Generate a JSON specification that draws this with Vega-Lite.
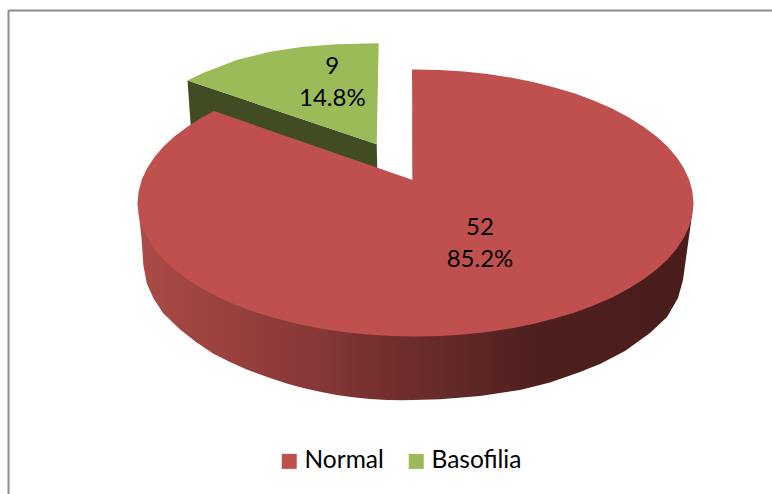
{
  "$schema": "https://vega.github.io/schema/vega-lite/v6.json",
  "autosize": "none",
  "width": 764,
  "height": 484,
  "padding": {"left": 8, "top": 10, "right": 0, "bottom": 0},
  "background": "white",
  "view": {"stroke": null},
  "config": {
    "axis": {"domainColor": "#8c8c8c", "domainWidth": 2, "ticks": false, "labels": false, "grid": false, "title": null}
  },
  "encoding": {
    "x": {"field": "X", "type": "quantitative", "scale": {"domain": [-407.5, 356.5], "nice": false, "zero": false}, "axis": {"orient": "top"}},
    "y": {"field": "Y", "type": "quantitative", "scale": {"domain": [-291, 193], "nice": false, "zero": false}, "axis": {"orient": "left"}},
    "order": {"field": "seq", "type": "ordinal"}
  },
  "layer": [
    {
      "description": "Dark cut wall of the pulled-out Basofilia slice",
      "data": {"values": [
        {"seq": 1, "X": -228, "Y": 122.5},
        {"seq": 2, "X": -38.8, "Y": 58.7},
        {"seq": 3, "X": -38.2, "Y": 33},
        {"seq": 4, "X": -224.8, "Y": 78}
      ]},
      "mark": {"type": "line", "fill": "#414c22", "strokeWidth": 0}
    },
    {
      "description": "Rim of the Normal slice, shaded from left to right",
      "data": {"values": [
        {"seq": 1, "X": 277.8, "Y": 0},
        {"seq": 2, "X": 276.2, "Y": -14},
        {"seq": 3, "X": 267.5, "Y": -77},
        {"seq": 4, "X": 262.5, "Y": -95},
        {"seq": 5, "X": 251.5, "Y": -114},
        {"seq": 6, "X": 234.5, "Y": -130},
        {"seq": 7, "X": 209.5, "Y": -148},
        {"seq": 8, "X": 184.5, "Y": -161},
        {"seq": 9, "X": 164.5, "Y": -169},
        {"seq": 10, "X": 134.5, "Y": -179.5},
        {"seq": 11, "X": 104.5, "Y": -187},
        {"seq": 12, "X": 64.5, "Y": -193},
        {"seq": 13, "X": 24.5, "Y": -196.3},
        {"seq": 14, "X": -12.5, "Y": -197.3},
        {"seq": 15, "X": -28.8, "Y": -197},
        {"seq": 16, "X": -45.5, "Y": -196},
        {"seq": 17, "X": -62.5, "Y": -194.3},
        {"seq": 18, "X": -78.8, "Y": -192},
        {"seq": 19, "X": -95.5, "Y": -188.7},
        {"seq": 20, "X": -112.5, "Y": -185},
        {"seq": 21, "X": -128.8, "Y": -180.5},
        {"seq": 22, "X": -145.5, "Y": -175},
        {"seq": 23, "X": -168.8, "Y": -166.5},
        {"seq": 24, "X": -185.5, "Y": -159},
        {"seq": 25, "X": -202.5, "Y": -150.5},
        {"seq": 26, "X": -218.8, "Y": -139.5},
        {"seq": 27, "X": -235.5, "Y": -126.5},
        {"seq": 28, "X": -252.5, "Y": -110},
        {"seq": 29, "X": -262.2, "Y": -95},
        {"seq": 30, "X": -268.8, "Y": -80},
        {"seq": 31, "X": -272.2, "Y": -62},
        {"seq": 32, "X": -273.8, "Y": -37},
        {"seq": 33, "X": -277.8, "Y": 0}
      ]},
      "mark": {
        "type": "line",
        "strokeWidth": 0,
        "fill": {
          "gradient": "linear", "x1": 0, "y1": 0, "x2": 1, "y2": 0,
          "stops": [
            {"offset": 0, "color": "#ab4b47"},
            {"offset": 0.34, "color": "#853636"},
            {"offset": 0.44, "color": "#732f2e"},
            {"offset": 0.55, "color": "#652a29"},
            {"offset": 0.72, "color": "#4d1f1d"},
            {"offset": 1, "color": "#4a1c1b"}
          ]
        }
      }
    },
    {
      "description": "Thin sliver of the inner wall beside the gap",
      "data": {"values": [
        {"seq": 1, "X": -2.4, "Y": 90},
        {"seq": 2, "X": -2.4, "Y": 23}
      ]},
      "mark": {"type": "line", "stroke": "#5a2524", "strokeWidth": 1}
    },
    {
      "description": "Top faces of both slices; these carry the legend",
      "data": {"values": [
        {"category": "Basofilia", "seq": 1, "X": -228, "Y": 122.5},
        {"category": "Basofilia", "seq": 2, "X": -212.5, "Y": 130},
        {"category": "Basofilia", "seq": 3, "X": -178.8, "Y": 143},
        {"category": "Basofilia", "seq": 4, "X": -145.5, "Y": 151.3},
        {"category": "Basofilia", "seq": 5, "X": -112.5, "Y": 156.3},
        {"category": "Basofilia", "seq": 6, "X": -78.8, "Y": 158.7},
        {"category": "Basofilia", "seq": 7, "X": -36.8, "Y": 159.7},
        {"category": "Basofilia", "seq": 8, "X": -38.8, "Y": 58.7},
        {"category": "Normal", "seq": 1, "X": -2.8, "Y": 23},
        {"category": "Normal", "seq": 2, "X": -3.5, "Y": 133.5},
        {"category": "Normal", "seq": 3, "X": 0, "Y": 133.5},
        {"category": "Normal", "seq": 4, "X": 24.2, "Y": 133},
        {"category": "Normal", "seq": 5, "X": 48.3, "Y": 131.5},
        {"category": "Normal", "seq": 6, "X": 72, "Y": 128.9},
        {"category": "Normal", "seq": 7, "X": 95.1, "Y": 125.4},
        {"category": "Normal", "seq": 8, "X": 117.5, "Y": 121},
        {"category": "Normal", "seq": 9, "X": 139, "Y": 115.6},
        {"category": "Normal", "seq": 10, "X": 159.5, "Y": 109.4},
        {"category": "Normal", "seq": 11, "X": 178.7, "Y": 102.3},
        {"category": "Normal", "seq": 12, "X": 196.6, "Y": 94.4},
        {"category": "Normal", "seq": 13, "X": 213, "Y": 85.8},
        {"category": "Normal", "seq": 14, "X": 227.7, "Y": 76.6},
        {"category": "Normal", "seq": 15, "X": 240.8, "Y": 66.8},
        {"category": "Normal", "seq": 16, "X": 252, "Y": 56.4},
        {"category": "Normal", "seq": 17, "X": 261.2, "Y": 45.7},
        {"category": "Normal", "seq": 18, "X": 268.5, "Y": 34.6},
        {"category": "Normal", "seq": 19, "X": 273.8, "Y": 23.2},
        {"category": "Normal", "seq": 20, "X": 276.9, "Y": 11.6},
        {"category": "Normal", "seq": 21, "X": 278, "Y": 0},
        {"category": "Normal", "seq": 22, "X": 276.9, "Y": -11.6},
        {"category": "Normal", "seq": 23, "X": 273.8, "Y": -23.2},
        {"category": "Normal", "seq": 24, "X": 268.5, "Y": -34.6},
        {"category": "Normal", "seq": 25, "X": 261.2, "Y": -45.7},
        {"category": "Normal", "seq": 26, "X": 252, "Y": -56.4},
        {"category": "Normal", "seq": 27, "X": 240.8, "Y": -66.8},
        {"category": "Normal", "seq": 28, "X": 227.7, "Y": -76.6},
        {"category": "Normal", "seq": 29, "X": 213, "Y": -85.8},
        {"category": "Normal", "seq": 30, "X": 196.6, "Y": -94.4},
        {"category": "Normal", "seq": 31, "X": 178.7, "Y": -102.3},
        {"category": "Normal", "seq": 32, "X": 159.5, "Y": -109.4},
        {"category": "Normal", "seq": 33, "X": 139, "Y": -115.6},
        {"category": "Normal", "seq": 34, "X": 117.5, "Y": -121},
        {"category": "Normal", "seq": 35, "X": 95.1, "Y": -125.4},
        {"category": "Normal", "seq": 36, "X": 72, "Y": -128.9},
        {"category": "Normal", "seq": 37, "X": 48.3, "Y": -131.5},
        {"category": "Normal", "seq": 38, "X": 24.2, "Y": -133},
        {"category": "Normal", "seq": 39, "X": 0, "Y": -133.5},
        {"category": "Normal", "seq": 40, "X": -24.2, "Y": -133},
        {"category": "Normal", "seq": 41, "X": -48.3, "Y": -131.5},
        {"category": "Normal", "seq": 42, "X": -72, "Y": -128.9},
        {"category": "Normal", "seq": 43, "X": -95.1, "Y": -125.4},
        {"category": "Normal", "seq": 44, "X": -117.5, "Y": -121},
        {"category": "Normal", "seq": 45, "X": -139, "Y": -115.6},
        {"category": "Normal", "seq": 46, "X": -159.5, "Y": -109.4},
        {"category": "Normal", "seq": 47, "X": -178.7, "Y": -102.3},
        {"category": "Normal", "seq": 48, "X": -196.6, "Y": -94.4},
        {"category": "Normal", "seq": 49, "X": -213, "Y": -85.8},
        {"category": "Normal", "seq": 50, "X": -227.7, "Y": -76.6},
        {"category": "Normal", "seq": 51, "X": -240.8, "Y": -66.8},
        {"category": "Normal", "seq": 52, "X": -252, "Y": -56.4},
        {"category": "Normal", "seq": 53, "X": -261.2, "Y": -45.7},
        {"category": "Normal", "seq": 54, "X": -268.5, "Y": -34.6},
        {"category": "Normal", "seq": 55, "X": -273.8, "Y": -23.2},
        {"category": "Normal", "seq": 56, "X": -276.9, "Y": -11.6},
        {"category": "Normal", "seq": 57, "X": -278, "Y": 0},
        {"category": "Normal", "seq": 58, "X": -276.9, "Y": 11.6},
        {"category": "Normal", "seq": 59, "X": -273.8, "Y": 23.2},
        {"category": "Normal", "seq": 60, "X": -268.5, "Y": 34.6},
        {"category": "Normal", "seq": 61, "X": -261.2, "Y": 45.7},
        {"category": "Normal", "seq": 62, "X": -252, "Y": 56.4},
        {"category": "Normal", "seq": 63, "X": -240.8, "Y": 66.8},
        {"category": "Normal", "seq": 64, "X": -227.7, "Y": 76.6},
        {"category": "Normal", "seq": 65, "X": -213, "Y": 85.8},
        {"category": "Normal", "seq": 66, "X": -201.5, "Y": 92}
      ]},
      "mark": {"type": "line", "strokeWidth": 0},
      "encoding": {
        "fill": {
          "field": "category",
          "type": "nominal",
          "scale": {"domain": ["Normal", "Basofilia"], "range": ["#c0504d", "#9bbb59"]},
          "legend": {
            "title": null,
            "orient": "none",
            "legendX": 269,
            "legendY": 439,
            "direction": "horizontal",
            "columns": 2,
            "symbolType": "square",
            "symbolSize": 225,
            "symbolStrokeWidth": 0,
            "labelFont": "Lato",
            "labelFontSize": 24.5,
            "labelColor": "#000000",
            "labelOffset": 3,
            "columnPadding": 20
          }
        }
      }
    },
    {
      "description": "Slice counts",
      "data": {"values": [
        {"category": "Normal", "value": 52, "percent": "85.2%", "X": 64.5, "Y": -32},
        {"category": "Basofilia", "value": 9, "percent": "14.8%", "X": -83.2, "Y": 129}
      ]},
      "mark": {"type": "text", "font": "Lato", "fontSize": 24, "color": "#000000", "baseline": "alphabetic", "align": "center"},
      "encoding": {"text": {"field": "value", "type": "quantitative"}}
    },
    {
      "description": "Slice shares, set one line below the counts",
      "data": {"values": [
        {"category": "Normal", "value": 52, "percent": "85.2%", "X": 64.5, "Y": -32},
        {"category": "Basofilia", "value": 9, "percent": "14.8%", "X": -83.2, "Y": 129}
      ]},
      "mark": {"type": "text", "font": "Lato", "fontSize": 24, "color": "#000000", "baseline": "alphabetic", "align": "center", "dy": 32},
      "encoding": {"text": {"field": "percent", "type": "nominal"}}
    }
  ]
}
